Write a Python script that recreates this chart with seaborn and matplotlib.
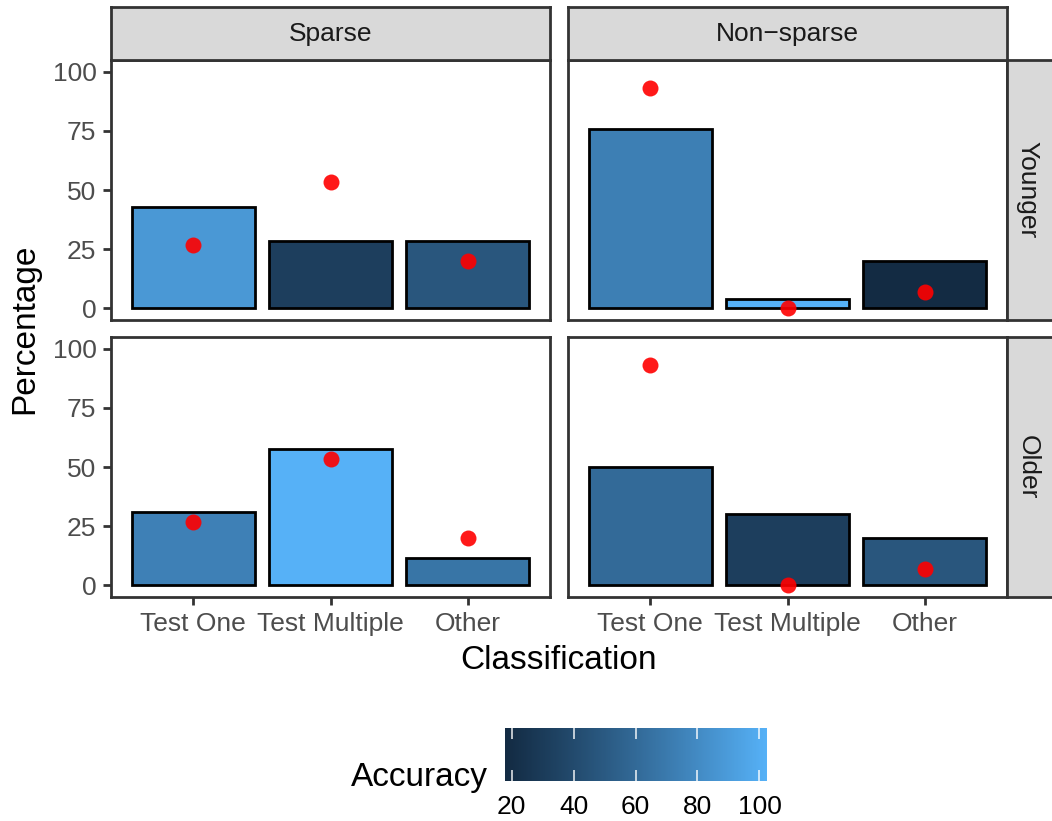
import numpy as np
import pandas as pd
import matplotlib
matplotlib.use("Agg")
import matplotlib.pyplot as plt
from matplotlib.colors import ListedColormap, Normalize
import seaborn as sns

# ---- data -------------------------------------------------------------
classes = ["Test One", "Test Multiple", "Other"]
sparsity_levels = ["Sparse", "Non\u2212sparse"]
age_groups = ["Younger", "Older"]

pct_sparse_younger = [42.9, 28.6, 28.6]
pct_nonsparse_younger = [76.0, 4.0, 20.0]
pct_sparse_older = [30.8, 57.7, 11.5]
pct_nonsparse_older = [50.0, 30.0, 20.0]

acc_sparse_younger = [86, 33, 48]
acc_nonsparse_younger = [72, 100, 20]
acc_sparse_older = [73, 100, 66]
acc_nonsparse_older = [60, 33, 48]

pt_sparse = [26.7, 53.3, 20.0]
pt_nonsparse = [93.3, 0.0, 6.7]

acc_ticks = [20, 40, 60, 80, 100]
pct_ticks = [0, 25, 50, 75, 100]

panels = {
    ("Younger", "Sparse"): (pct_sparse_younger, acc_sparse_younger, pt_sparse),
    ("Younger", "Non\u2212sparse"): (pct_nonsparse_younger, acc_nonsparse_younger, pt_nonsparse),
    ("Older", "Sparse"): (pct_sparse_older, acc_sparse_older, pt_sparse),
    ("Older", "Non\u2212sparse"): (pct_nonsparse_older, acc_nonsparse_older, pt_nonsparse),
}
rows = []
for (age, sp), (pct, acc, pt) in panels.items():
    for c, p, a, q in zip(classes, pct, acc, pt):
        rows.append(dict(Age=age, Sparsity=sp, Classification=c,
                         Percentage=p, Accuracy=a, Point=q))
df = pd.DataFrame(rows)

# ---- colour gradient (CIELAB interpolation, dark -> light blue) --------
def _srgb_to_lab(rgb):
    c = np.asarray(rgb, float)
    lin = np.where(c <= 0.04045, c / 12.92, ((c + 0.055) / 1.055) ** 2.4)
    M = np.array([[0.4124, 0.3576, 0.1805],
                  [0.2126, 0.7152, 0.0722],
                  [0.0193, 0.1192, 0.9505]])
    xyz = M @ lin / np.array([0.95047, 1.0, 1.08883])
    d = 6 / 29
    f = np.where(xyz > d ** 3, np.cbrt(xyz), xyz / (3 * d ** 2) + 4 / 29)
    return np.array([116 * f[1] - 16, 500 * (f[0] - f[1]), 200 * (f[1] - f[2])])

def _lab_to_srgb(lab):
    L, a, b = lab
    fy = (L + 16) / 116
    fx = fy + a / 500
    fz = fy - b / 200
    d = 6 / 29
    f = np.array([fx, fy, fz])
    xyz = np.where(f > d, f ** 3, 3 * d ** 2 * (f - 4 / 29)) * np.array([0.95047, 1.0, 1.08883])
    Minv = np.array([[3.2406, -1.5372, -0.4986],
                     [-0.9689, 1.8758, 0.0415],
                     [0.0557, -0.2040, 1.0570]])
    lin = Minv @ xyz
    lin = np.clip(lin, 0, 1)
    c = np.where(lin <= 0.0031308, 12.92 * lin, 1.055 * lin ** (1 / 2.4) - 0.055)
    return np.clip(c, 0, 1)

lo_lab = _srgb_to_lab(matplotlib.colors.to_rgb("#132B43"))
hi_lab = _srgb_to_lab(matplotlib.colors.to_rgb("#56B1F7"))
grad = [_lab_to_srgb(lo_lab + t * (hi_lab - lo_lab)) for t in np.linspace(0, 1, 256)]
cmap = ListedColormap(grad)
acc_lo, acc_hi = df["Accuracy"].min(), df["Accuracy"].max()
norm = Normalize(acc_lo, acc_hi)

# ---- style ------------------------------------------------------------
sns.set_style("white")
plt.rcParams["font.family"] = ["Liberation Sans", "DejaVu Sans"]
GREY20 = "#333333"
GREY30 = "#4D4D4D"
LW = 2.0

W, H = 1052, 821
fig = plt.figure(figsize=(W / 100, H / 100), dpi=100)

def box(x0, y0, x1, y1):
    return [x0 / W, 1 - y1 / H, (x1 - x0) / W, (y1 - y0) / H]

col_px = [(111, 550), (568, 1007)]
row_px = [(60, 320), (337, 597)]

for r, age in enumerate(age_groups):
    for c, sp in enumerate(sparsity_levels):
        ax = fig.add_axes(box(col_px[c][0], row_px[r][0], col_px[c][1], row_px[r][1]))
        sub = df[(df.Age == age) & (df.Sparsity == sp)]
        pal = {k: cmap(norm(v)) for k, v in zip(sub.Classification, sub.Accuracy)}
        sns.barplot(data=sub, x="Classification", y="Percentage", hue="Classification",
                    palette=pal, order=classes, hue_order=classes, width=0.9,
                    edgecolor="black", linewidth=LW, saturation=1, legend=False, ax=ax)
        sns.stripplot(data=sub, x="Classification", y="Point", order=classes,
                      jitter=False, color="red", alpha=0.9, size=11.5, linewidth=0,
                      zorder=5, ax=ax)
        ax.set_xlim(-0.6, 2.6)
        ax.set_ylim(-5, 105)
        ax.set_yticks(pct_ticks)
        ax.set_xlabel("")
        ax.set_ylabel("")
        for s in ax.spines.values():
            s.set_color(GREY20)
            s.set_linewidth(LW)
        ax.tick_params(axis="both", which="both", length=6, width=LW, color=GREY20,
                       labelcolor=GREY30, labelsize=19, pad=4.5)
        ax.tick_params(axis="x", bottom=(r == 1), labelbottom=(r == 1))
        ax.tick_params(axis="y", left=(c == 0), labelleft=(c == 0))
        if r == 1:
            ax.set_xticks(range(len(classes)))
            ax.set_xticklabels(classes)

# facet strips
def strip(x0, y0, x1, y1, label, rotation=0, tx=0.5):
    sax = fig.add_axes(box(x0, y0, x1, y1))
    sax.set_facecolor("#D9D9D9")
    sax.set_xticks([]); sax.set_yticks([])
    for s in sax.spines.values():
        s.set_color(GREY20)
        s.set_linewidth(LW)
    sax.text(tx, 0.5, label, transform=sax.transAxes, ha="center", va="center",
             fontsize=19, color="#1A1A1A", rotation=rotation)
    return sax

for c, sp in enumerate(sparsity_levels):
    strip(col_px[c][0], 7, col_px[c][1], 60, sp)
for r, age in enumerate(age_groups):
    strip(1007, row_px[r][0], 1060, row_px[r][1], age, rotation=-90, tx=0.39)

# axis titles
fig.text(25 / W, 1 - 328.5 / H, "Percentage", rotation=90, ha="center", va="center",
         fontsize=24, color="black")
fig.text(559 / W, 1 - 660 / H, "Classification", ha="center", va="center",
         fontsize=24, color="black")

# colour bar legend
cax = fig.add_axes(box(505, 728, 766, 781))
span = acc_hi - acc_lo
pad = 0.5 * span / 19
x_lo, x_hi = acc_lo - pad, acc_hi + pad
cax.imshow(np.linspace(acc_lo, acc_hi, 300)[None, :], cmap=cmap, norm=norm, aspect="auto",
           extent=[x_lo, x_hi, 0, 1], interpolation="bilinear")
cax.set_xlim(x_lo, x_hi)
cax.set_ylim(0, 1)
cax.vlines(acc_ticks, 0, 0.2, color="white", linewidth=1.2, alpha=0.85)
cax.vlines(acc_ticks, 0.8, 1, color="white", linewidth=1.2, alpha=0.85)
for s in cax.spines.values():
    s.set_visible(False)
cax.set_yticks([])
cax.set_xticks(acc_ticks)
cax.set_xticklabels([str(t) for t in acc_ticks])
cax.tick_params(axis="x", length=0, labelsize=19, labelcolor="black", pad=10)
fig.text(488 / W, 1 - 777 / H, "Accuracy", ha="right", va="center",
         fontsize=24, color="black")

fig.savefig("out.png", dpi=100, facecolor="white")
